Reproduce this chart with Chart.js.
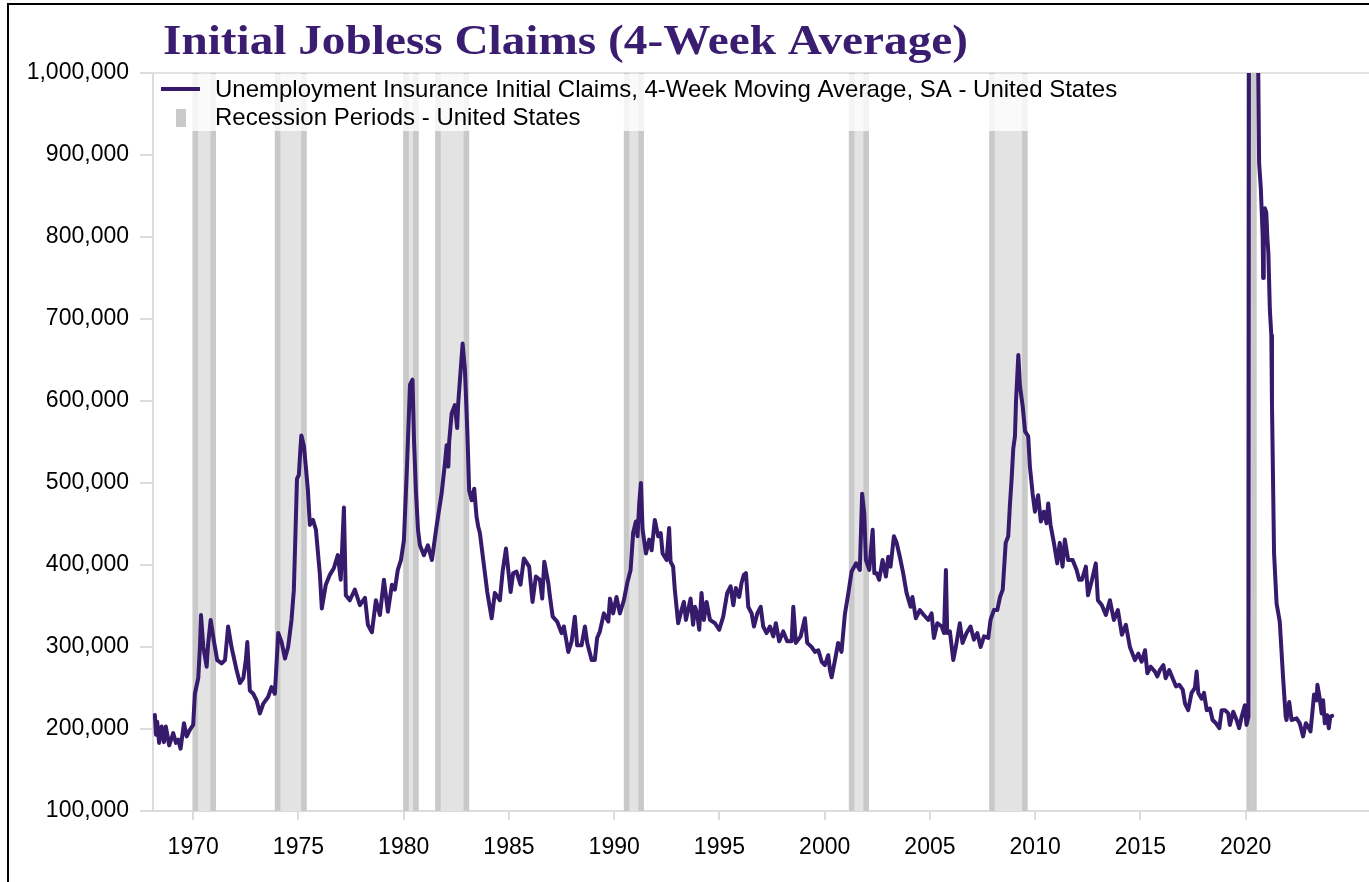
<!DOCTYPE html>
<html>
<head>
<meta charset="utf-8">
<title>Initial Jobless Claims (4-Week Average)</title>
<script src="https://cdn.jsdelivr.net/npm/chart.js@4.4.1/dist/chart.umd.min.js"></script>
<style>
  html, body { margin: 0; padding: 0; background: #fff; }
  #frame { position: absolute; left: 7px; top: 3px; width: 1400px; height: 900px;
           border-left: 2px solid #000; border-top: 2px solid #000; }
  #wrap { position: absolute; left: 0; top: 0; width: 1369px; height: 882px; }
</style>
</head>
<body>
<div id="frame"></div>
<div id="wrap"><canvas id="claimsChart" width="1369" height="882"></canvas></div>
<script>
// titre + libellés
const TITLE = 'Initial Jobless Claims (4-Week Average)';
const SERIES_LABEL = 'Unemployment Insurance Initial Claims, 4-Week Moving Average, SA - United States';
const RECESSION_LABEL = 'Recession Periods - United States';

// axe X (années) et axe Y (milliers)
const X_TICKS = [1970, 1975, 1980, 1985, 1990, 1995, 2000, 2005, 2010, 2015, 2020];
const Y_TICKS = [100, 200, 300, 400, 500, 600, 700, 800, 900, 1000];

// récessions (début / fin, années décimales)
const RECESSION_START = [1969.97, 1973.88, 1979.98, 1981.50, 1990.46, 2001.15, 2007.82, 2020.04];
const RECESSION_END   = [1971.08, 1975.39, 1980.71, 1983.11, 1991.41, 2002.10, 2009.64, 2020.52];

// série : date (année décimale) et moyenne 4 semaines (milliers)
const CLAIM_YEARS = [
  1968.18, 1968.23, 1968.29, 1968.38, 1968.50, 1968.61, 1968.70, 1968.86, 1969.05, 1969.18,
  1969.29, 1969.40, 1969.56, 1969.69, 1969.84, 1970.00, 1970.08, 1970.24, 1970.32, 1970.37,
  1970.48, 1970.64, 1970.71, 1970.83, 1970.98, 1971.14, 1971.35, 1971.51, 1971.66, 1971.82,
  1972.06, 1972.22, 1972.38, 1972.50, 1972.57, 1972.69, 1972.85, 1973.01, 1973.17, 1973.33,
  1973.56, 1973.72, 1973.88, 1974.04, 1974.20, 1974.36, 1974.51, 1974.67, 1974.78, 1974.86,
  1974.93, 1975.02, 1975.09, 1975.14, 1975.26, 1975.35, 1975.45, 1975.54, 1975.69, 1975.83,
  1976.02, 1976.11, 1976.30, 1976.49, 1976.68, 1976.87, 1977.01, 1977.16, 1977.25, 1977.44,
  1977.68, 1977.92, 1978.16, 1978.30, 1978.49, 1978.68, 1978.87, 1979.06, 1979.25, 1979.44,
  1979.58, 1979.72, 1979.87, 1980.01, 1980.15, 1980.30, 1980.42, 1980.49, 1980.58, 1980.68,
  1980.77, 1980.96, 1981.15, 1981.34, 1981.56, 1981.80, 1981.96, 1982.04, 1982.12, 1982.16,
  1982.28, 1982.43, 1982.54, 1982.59, 1982.80, 1982.91, 1983.02, 1983.11, 1983.23, 1983.35,
  1983.46, 1983.54, 1983.62, 1983.78, 1983.97, 1984.18, 1984.33, 1984.57, 1984.70, 1984.86,
  1985.08, 1985.20, 1985.36, 1985.55, 1985.71, 1985.96, 1986.12, 1986.28, 1986.47, 1986.58,
  1986.68, 1986.87, 1986.95, 1987.08, 1987.29, 1987.50, 1987.61, 1987.82, 1987.98, 1988.13,
  1988.24, 1988.45, 1988.61, 1988.72, 1988.93, 1989.08, 1989.19, 1989.32, 1989.51, 1989.72,
  1989.80, 1989.95, 1990.11, 1990.27, 1990.46, 1990.62, 1990.78, 1990.90, 1991.03, 1991.11,
  1991.19, 1991.27, 1991.35, 1991.51, 1991.66, 1991.78, 1991.93, 1992.09, 1992.21, 1992.30,
  1992.49, 1992.61, 1992.68, 1992.80, 1992.88, 1993.04, 1993.20, 1993.31, 1993.41, 1993.63,
  1993.75, 1993.84, 1993.94, 1994.04, 1994.15, 1994.26, 1994.39, 1994.55, 1994.79, 1994.99,
  1995.18, 1995.37, 1995.53, 1995.66, 1995.78, 1995.94, 1996.05, 1996.16, 1996.26, 1996.37,
  1996.53, 1996.64, 1996.80, 1996.96, 1997.08, 1997.24, 1997.40, 1997.56, 1997.68, 1997.84,
  1998.03, 1998.22, 1998.43, 1998.51, 1998.63, 1998.86, 1999.06, 1999.17, 1999.38, 1999.54,
  1999.70, 1999.86, 2000.01, 2000.17, 2000.25, 2000.33, 2000.49, 2000.64, 2000.80, 2000.96,
  2001.12, 2001.28, 2001.49, 2001.67, 2001.78, 2001.88, 2001.96, 2002.12, 2002.28, 2002.36,
  2002.47, 2002.59, 2002.75, 2002.91, 2003.02, 2003.13, 2003.29, 2003.42, 2003.57, 2003.73,
  2003.89, 2004.08, 2004.17, 2004.33, 2004.52, 2004.71, 2004.92, 2005.08, 2005.19, 2005.35,
  2005.56, 2005.67, 2005.76, 2005.82, 2005.95, 2006.11, 2006.23, 2006.42, 2006.55, 2006.74,
  2006.93, 2007.09, 2007.25, 2007.41, 2007.57, 2007.77, 2007.88, 2008.04, 2008.20, 2008.33,
  2008.46, 2008.60, 2008.72, 2008.80, 2008.88, 2008.96, 2009.04, 2009.09, 2009.15, 2009.20,
  2009.28, 2009.41, 2009.52, 2009.67, 2009.75, 2009.88, 2009.99, 2010.14, 2010.27, 2010.41,
  2010.54, 2010.62, 2010.73, 2010.89, 2011.05, 2011.17, 2011.30, 2011.41, 2011.57, 2011.78,
  2011.97, 2012.09, 2012.22, 2012.41, 2012.51, 2012.70, 2012.88, 2012.98, 2013.17, 2013.36,
  2013.55, 2013.74, 2013.93, 2014.12, 2014.31, 2014.50, 2014.74, 2014.90, 2015.06, 2015.22,
  2015.33, 2015.49, 2015.69, 2015.80, 2015.93, 2016.09, 2016.20, 2016.37, 2016.53, 2016.69,
  2016.84, 2017.01, 2017.12, 2017.27, 2017.43, 2017.59, 2017.67, 2017.75, 2017.91, 2018.02,
  2018.15, 2018.30, 2018.43, 2018.59, 2018.75, 2018.86, 2019.02, 2019.17, 2019.25, 2019.41,
  2019.57, 2019.69, 2019.81, 2019.96, 2020.04, 2020.13, 2020.17, 2020.22, 2020.30, 2020.39,
  2020.49, 2020.58, 2020.64, 2020.72, 2020.81, 2020.83, 2020.86, 2020.91, 2020.98, 2021.03,
  2021.08, 2021.15, 2021.22, 2021.25, 2021.35, 2021.47, 2021.62, 2021.78, 2021.90, 2021.94,
  2022.07, 2022.18, 2022.42, 2022.57, 2022.73, 2022.86, 2022.97, 2023.08, 2023.18, 2023.25,
  2023.37, 2023.41, 2023.52, 2023.61, 2023.68, 2023.76, 2023.87, 2023.95, 2024.02, 2024.11
];
const CLAIM_VALUES = [
  217, 193, 209, 183, 203, 184, 203, 180, 195, 183,
  187, 176, 207, 191, 199, 205, 243, 262, 300, 339,
  300, 276, 304, 333, 308, 284, 280, 284, 325, 300,
  272, 256, 262, 284, 306, 247, 243, 235, 219, 231,
  239, 251, 243, 317, 306, 286, 300, 333, 369, 440,
  505, 510, 540, 558, 545, 520, 491, 449, 455, 443,
  388, 347, 376, 388, 396, 412, 382, 470, 363, 357,
  370, 351, 360, 327, 318, 357, 339, 382, 343, 376,
  370, 394, 406, 430, 516, 620, 626, 552, 491, 443,
  424, 412, 424, 406, 447, 487, 524, 546, 520, 550,
  585, 595, 567, 597, 670, 638, 565, 491, 479, 493,
  459, 447, 439, 406, 367, 335, 366, 357, 392, 420,
  367, 390, 392, 376, 408, 398, 355, 386, 382, 359,
  404, 378, 361, 337, 331, 317, 325, 294, 307, 337,
  302, 302, 325, 305, 284, 284, 311, 319, 341, 331,
  359, 341, 361, 341, 357, 378, 394, 439, 453, 435,
  475, 500, 443, 414, 431, 418, 455, 435, 439, 414,
  406, 445, 404, 398, 370, 329, 345, 355, 333, 359,
  327, 349, 341, 321, 366, 333, 355, 333, 329, 321,
  337, 366, 374, 351, 372, 361, 378, 388, 390, 349,
  341, 325, 341, 349, 325, 317, 325, 313, 329, 307,
  319, 307, 307, 349, 305, 313, 335, 305, 300, 294,
  296, 282, 278, 290, 272, 263, 284, 305, 294, 340,
  365, 392, 402, 394, 487, 463, 406, 394, 443, 390,
  390, 382, 406, 386, 410, 398, 435, 427, 410, 390,
  366, 349, 361, 335, 345, 339, 333, 341, 311, 329,
  325, 317, 394, 317, 319, 284, 300, 329, 305, 317,
  325, 309, 317, 300, 313, 311, 333, 345, 345, 361,
  370, 427, 435, 473, 504, 542, 557, 600, 630, 656,
  618, 593, 563, 557, 520, 487, 465, 485, 453, 465,
  451, 475, 449, 427, 402, 427, 398, 431, 406, 406,
  394, 382, 382, 398, 363, 382, 402, 357, 351, 339,
  357, 333, 345, 315, 327, 300, 284, 292, 282, 296,
  268, 276, 270, 264, 272, 278, 262, 272, 262, 252,
  254, 248, 231, 223, 244, 250, 270, 244, 237, 244,
  223, 225, 211, 207, 201, 223, 223, 219, 205, 221,
  211, 201, 215, 229, 205, 215, 1500, 4000, 4200, 3000,
  1800, 1050, 890, 860, 800, 750, 790, 835, 830, 800,
  780, 711, 680, 597, 414, 353, 331, 262, 216, 211,
  233, 211, 213, 207, 191, 207, 203, 197, 223, 242,
  235, 254, 237, 219, 235, 207, 217, 201, 215, 216
];

const COLORS = {
  line: '#361a6c',
  title: '#3a1d70',
  bandFill: '#e3e3e3',
  bandEdge: '#c9c9c9',
  axis: '#dcdcdc',
  text: '#000000'
};

// bandes de récession, dessinées avant la courbe
const recessionBands = {
  id: 'recessionBands',
  beforeDatasetsDraw(chart) {
    const { ctx, chartArea: a, scales: { x } } = chart;
    ctx.save();
    RECESSION_START.forEach((start, i) => {
      const x0 = x.getPixelForValue(start);
      const x1 = x.getPixelForValue(RECESSION_END[i]);
      const edge = Math.min(5.5, (x1 - x0) / 2);
      ctx.fillStyle = COLORS.bandFill;
      ctx.fillRect(x0, a.top, x1 - x0, a.bottom - a.top);
      ctx.fillStyle = COLORS.bandEdge;
      ctx.fillRect(x0, a.top, edge, a.bottom - a.top);
      ctx.fillRect(x1 - edge, a.top, edge, a.bottom - a.top);
    });
    ctx.restore();
  }
};

// légende dans le coin haut gauche de la zone de tracé
const insideLegend = {
  id: 'insideLegend',
  afterDatasetsDraw(chart) {
    const { ctx, chartArea: a } = chart;
    ctx.save();
    ctx.fillStyle = 'rgba(255,255,255,0.8)';
    ctx.fillRect(a.left + 1, a.top + 1, 972, 57);
    ctx.strokeStyle = COLORS.line;
    ctx.lineWidth = 4;
    ctx.beginPath();
    ctx.moveTo(a.left + 8, a.top + 16);
    ctx.lineTo(a.left + 47, a.top + 16);
    ctx.stroke();
    ctx.fillStyle = COLORS.bandEdge;
    ctx.fillRect(a.left + 23, a.top + 36, 10, 18);
    ctx.fillStyle = COLORS.text;
    ctx.font = '24px "Liberation Sans", Arial, sans-serif';
    ctx.textBaseline = 'alphabetic';
    ctx.fillText(chart.data.datasets[0].label, a.left + 62, a.top + 24);
    ctx.fillText(RECESSION_LABEL, a.left + 62, a.top + 52);
    ctx.restore();
  }
};

// titre en haut à gauche
const topTitle = {
  id: 'topTitle',
  afterDraw(chart) {
    const { ctx } = chart;
    ctx.save();
    ctx.font = 'bold 42px "Liberation Serif", "Times New Roman", serif';
    ctx.fillStyle = COLORS.title;
    ctx.textBaseline = 'alphabetic';
    const w = ctx.measureText(TITLE).width;
    ctx.translate(163, 54);
    ctx.scale(805 / w, 1);
    ctx.fillText(TITLE, 0, 0);
    ctx.restore();
  }
};

const points = CLAIM_YEARS.map((yr, i) => ({ x: yr, y: CLAIM_VALUES[i] }));
const tickFont = { family: '"Liberation Sans", Arial, sans-serif', size: 23 };

new Chart(document.getElementById('claimsChart'), {
  type: 'line',
  data: {
    datasets: [{
      label: SERIES_LABEL,
      data: points,
      borderColor: COLORS.line,
      borderWidth: 4,
      borderJoinStyle: 'round',
      borderCapStyle: 'round',
      pointRadius: 0,
      tension: 0,
      fill: false
    }]
  },
  options: {
    responsive: false,
    animation: false,
    layout: { padding: { top: 73, left: 0, right: 0, bottom: 0 } },
    scales: {
      x: {
        type: 'linear',
        min: 1968.09,
        max: 2025.86,
        afterBuildTicks: scale => { scale.ticks = X_TICKS.map(v => ({ value: v })); },
        afterFit: scale => { scale.height = 71; },
        grid: { drawOnChartArea: false, tickColor: COLORS.axis, tickLength: 9, lineWidth: 2 },
        border: { color: COLORS.axis, width: 2 },
        ticks: { color: COLORS.text, font: tickFont, padding: 14, maxRotation: 0, callback: v => String(v) }
      },
      y: {
        min: 100,
        max: 1000,
        afterBuildTicks: scale => { scale.ticks = Y_TICKS.map(v => ({ value: v })); },
        afterFit: scale => { scale.width = 153; },
        grid: {
          drawOnChartArea: true,
          color: c => (c.tick && c.tick.value === 1000 ? '#e2e2e2' : 'rgba(0,0,0,0)'),
          tickColor: COLORS.axis,
          tickLength: 13,
          lineWidth: 2
        },
        border: { color: COLORS.axis, width: 2 },
        ticks: {
          color: COLORS.text,
          font: tickFont,
          padding: 11,
          callback: v => (v * 1000).toLocaleString('en-US')
        }
      }
    },
    plugins: {
      legend: { display: false },
      title: { display: false },
      tooltip: { enabled: false }
    }
  },
  plugins: [recessionBands, insideLegend, topTitle]
});
</script>
</body>
</html>
